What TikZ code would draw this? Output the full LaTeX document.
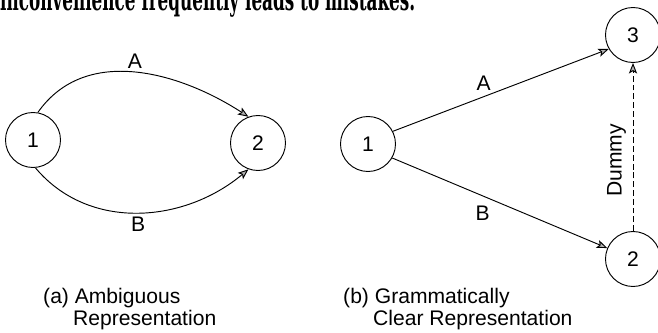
\documentclass[tikz,border=0pt]{standalone}
\usepackage{fontspec}
\setmainfont{Liberation Sans}
\newfontfamily\bookfont{DejaVu Serif}
\usetikzlibrary{arrows.meta}

\begin{document}
\begin{tikzpicture}[x=0.03cm, y=0.03cm,
  event/.style={circle, draw, line width=0.8pt, minimum size=1.65cm,
                inner sep=0pt, font=\fontsize{18}{20}\selectfont},
  arr/.style={-{Stealth[length=9pt, width=7pt, inset=2pt, fill=gray!60]},
              line width=0.8pt},
  lbl/.style={font=\fontsize{18}{20}\selectfont},
  caption/.style={font=\fontsize{18}{19}\selectfont, align=left,
              anchor=north west, inner sep=0pt},
]
\useasboundingbox (0,0) rectangle (658,333);

% cut-off line of the page text above the figure
\begin{scope}
  \clip (0,0) rectangle (658,333);
  \node[anchor=base west, inner sep=0pt] (pagetext) at (0,322)
    {\resizebox{12.45cm}{1.2\height}{\bookfont\bfseries\fontsize{22}{24}\selectfont
     inconvenience frequently leads to mistakes.}};
\end{scope}

% (a) two activities between the same events
\node[event] (a1) at (33,193) {1};
\node[event] (a2) at (258,190) {2};
\draw[arr] (a1.80) to[out=55, in=147]
  node[lbl, midway, above=0pt] (aA) {A} (a2.110);
\draw[arr] (a1.275) to[out=-50, in=220]
  node[lbl, midway, below=0pt] (aB) {B} (a2.250);

% (b) dummy activity added
\node[event] (b1) at (368,189) {1};
\node[event] (b3) at (633,298) {3};
\node[event] (b2) at (633,74) {2};
\draw[arr] (b1.27) -- node[lbl, pos=0.42, above=2pt] (bA) {A} (b3.210);
\draw[arr] (b1.-30) -- node[lbl, pos=0.42, below=5pt] (bB) {B} (b2.157);
\draw[arr, dash pattern=on 5pt off 2.5pt] (b2) --
  node[lbl, pos=0.42, rotate=90, anchor=south, inner sep=1pt,
       outer sep=5pt] (dummy) {Dummy} (b3);

% captions
\node[caption] (capa) at (43,45)
  {(a) Ambiguous\\\hspace*{0.9cm}Representation};
\node[caption] (capb) at (343,45)
  {(b) Grammatically\\\hspace*{0.9cm}Clear Representation};

\end{tikzpicture}
\end{document}
